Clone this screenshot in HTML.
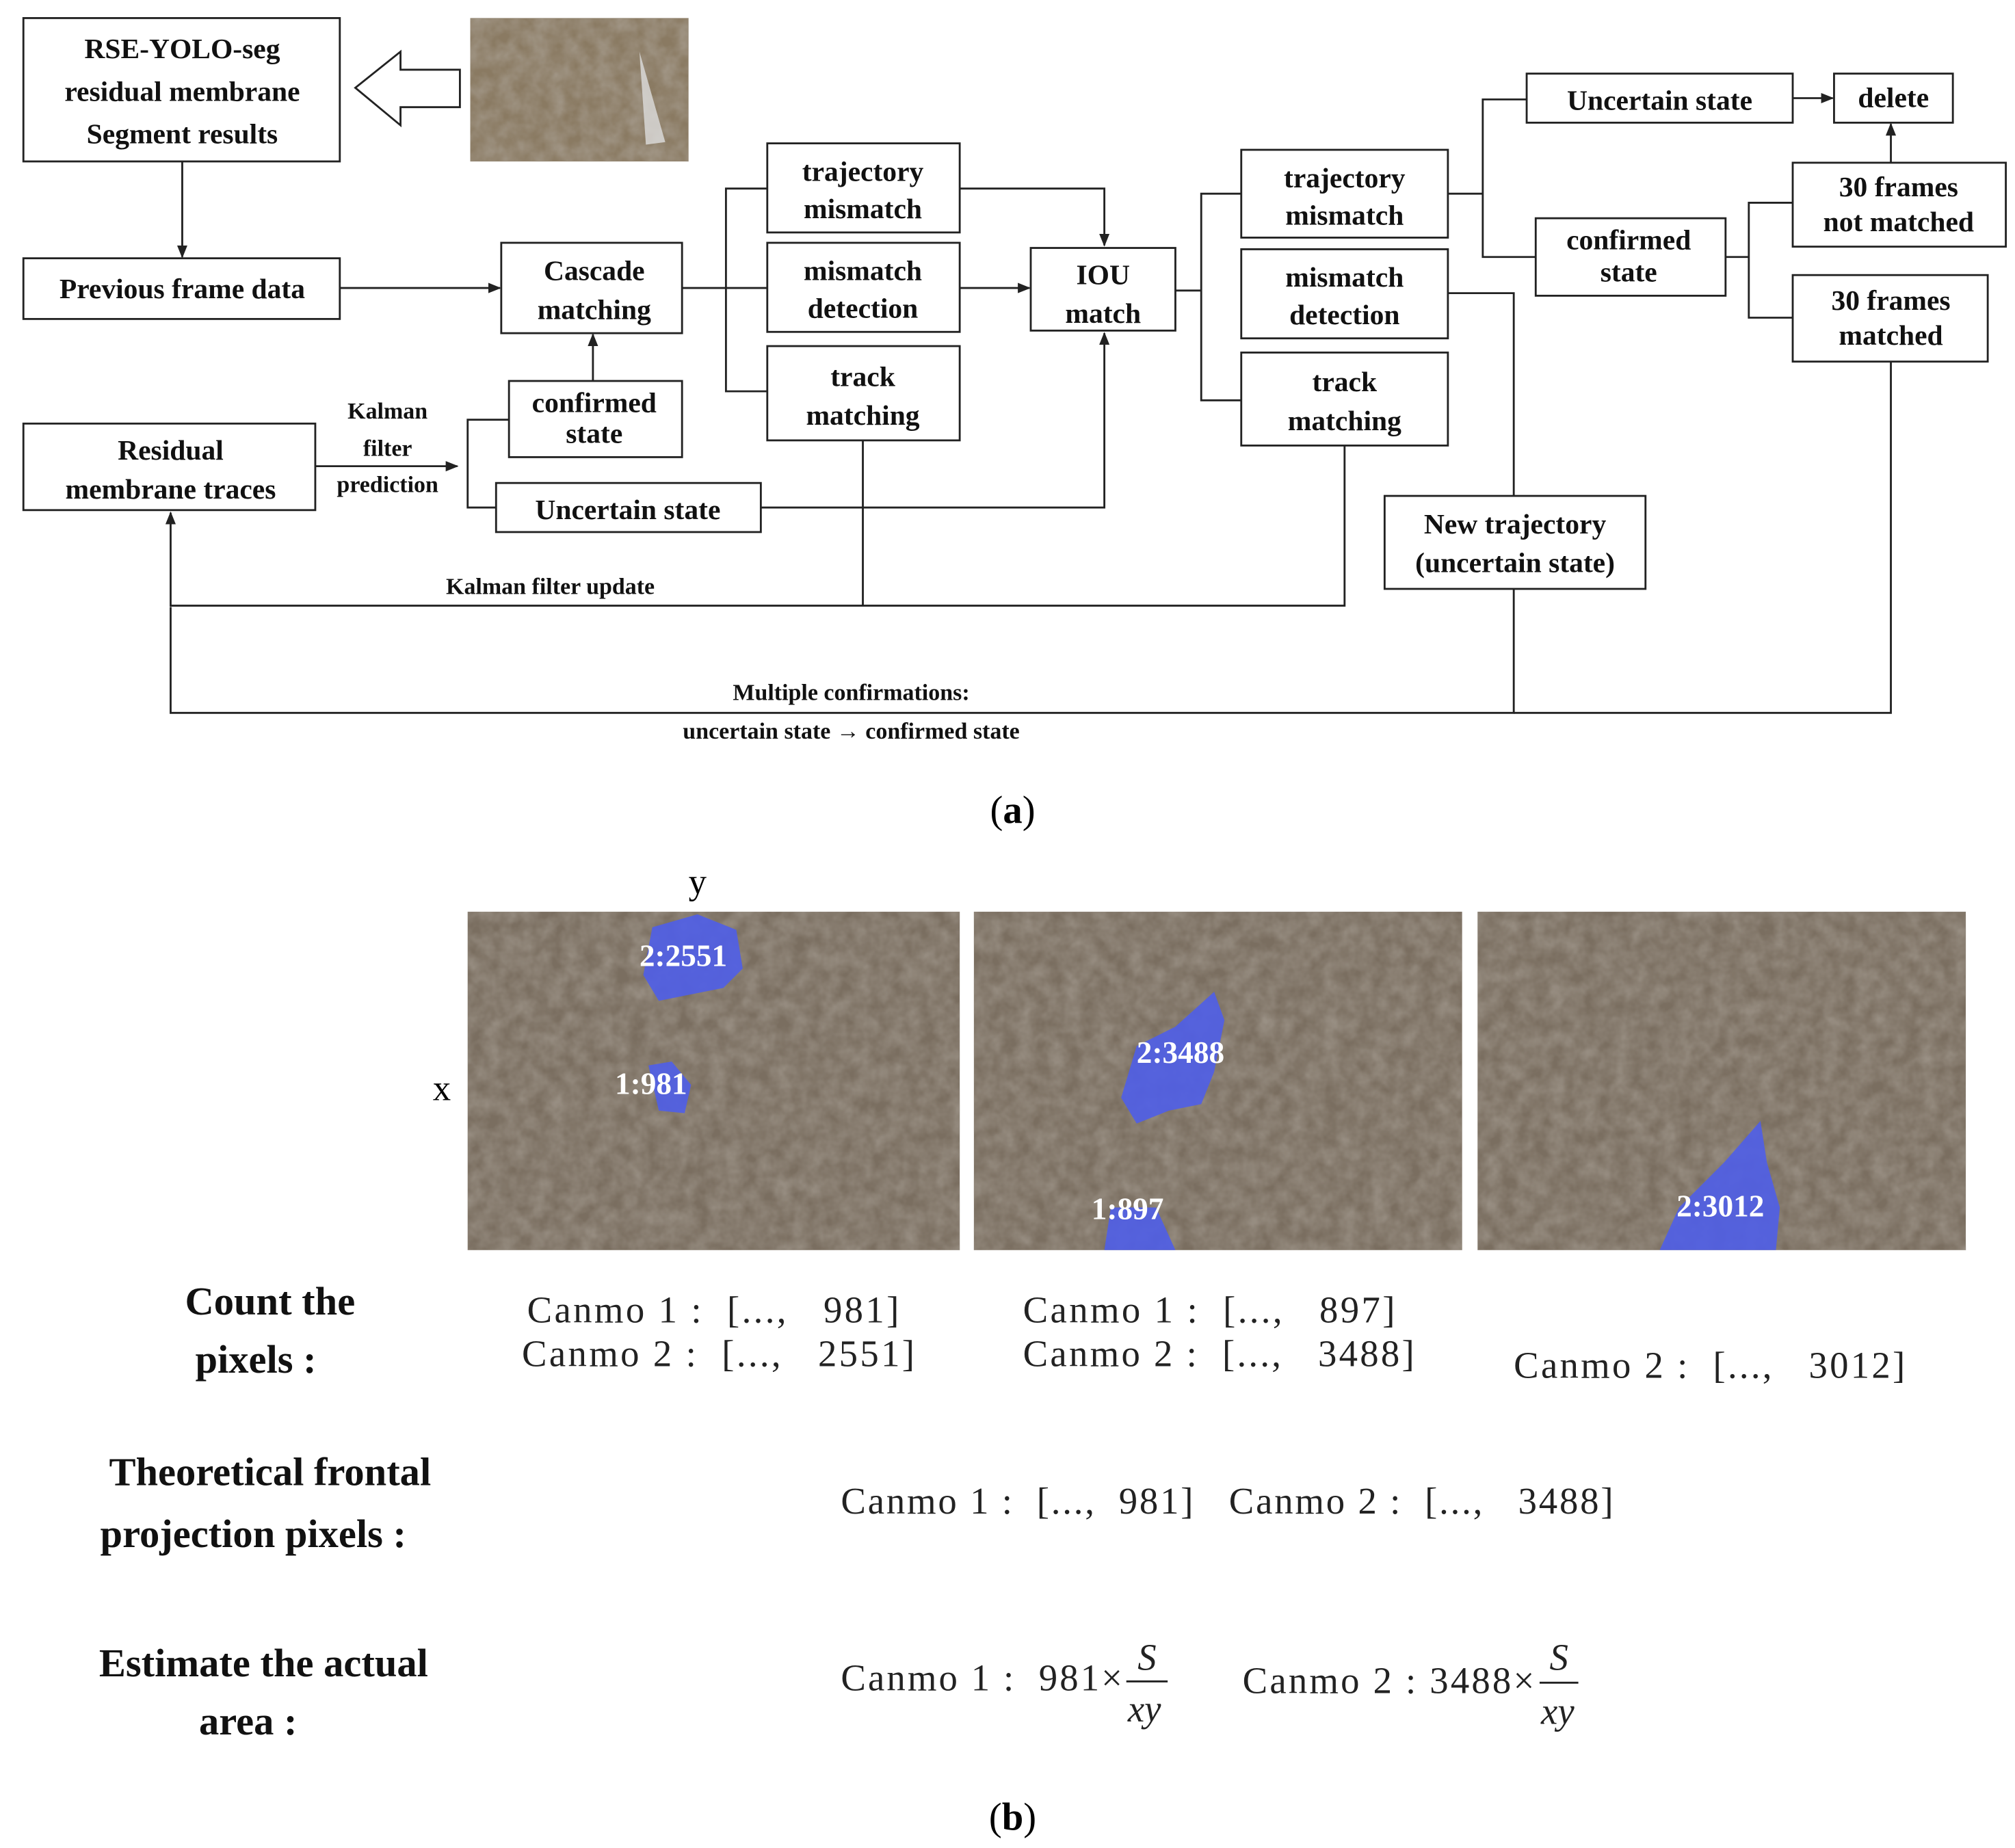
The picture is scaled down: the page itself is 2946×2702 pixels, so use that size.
<!DOCTYPE html>
<html><head><meta charset="utf-8"><style>
html,body{margin:0;padding:0;background:#fff;}
svg{display:block;}
.b{font-family:"Liberation Serif",serif;font-weight:bold;font-size:22px;fill:#111;text-anchor:middle;}
.s{font-family:"Liberation Serif",serif;font-weight:bold;font-size:18px;fill:#111;text-anchor:middle;}
.r{font-family:"Liberation Serif","Noto Serif CJK SC",serif;font-size:29px;fill:#222;white-space:pre;}
.h{font-family:"Liberation Serif",serif;font-weight:bold;font-size:31px;fill:#111;text-anchor:middle;}
.w{font-family:"Liberation Serif",serif;font-weight:bold;font-size:24px;fill:#fff;}
rect.bx{fill:#fff;stroke:#222;stroke-width:1.5;}
line,polyline{stroke:#222;stroke-width:1.5;fill:none;}
</style></head><body>
<svg width="2946" height="2702" viewBox="0 0 1560 1431" xmlns="http://www.w3.org/2000/svg">
<defs><marker id="a" markerWidth="10" markerHeight="10" refX="9" refY="5" orient="auto" markerUnits="userSpaceOnUse"><path d="M0,1 L10,5 L0,9 z" fill="#222"/></marker>
<filter id="n" x="0" y="0" width="100%" height="100%"><feTurbulence type="fractalNoise" baseFrequency="0.08" numOctaves="3" seed="4"/><feColorMatrix values="0 0 0 0 0.45  0 0 0 0 0.41  0 0 0 0 0.36  0 0 0 1.4 -0.3"/></filter></defs>

<rect class="bx" x="18" y="14" width="245" height="111"/>
<text class="b" x="141" y="45">RSE-YOLO-seg</text><text class="b" x="141" y="78">residual membrane</text><text class="b" x="141" y="111">Segment results</text>
<path d="M356,54 L310,54 L310,40 L275,68 L310,97 L310,83 L356,83 Z" fill="#fff" stroke="#222" stroke-width="1.5"/>
<rect x="364" y="14" width="169" height="111" fill="#8a7a62"/>
<rect x="364" y="14" width="169" height="111" filter="url(#n)" opacity="0.6"/>
<path d="M495,40 L515,110 L500,112 Z" fill="#ddd" opacity="0.8"/>

<rect class="bx" x="18" y="200" width="245" height="47"/><text class="b" x="141" y="231">Previous frame data</text>
<line x1="141" y1="125" x2="141" y2="199" marker-end="url(#a)"/>
<line x1="263" y1="223" x2="387" y2="223" marker-end="url(#a)"/>
<rect class="bx" x="388" y="188" width="140" height="70"/><text class="b" x="460" y="217">Cascade</text><text class="b" x="460" y="247">matching</text>
<rect class="bx" x="394" y="295" width="134" height="59"/><text class="b" x="460" y="319">confirmed</text><text class="b" x="460" y="343">state</text>
<line x1="459" y1="295" x2="459" y2="259" marker-end="url(#a)"/>
<rect class="bx" x="18" y="328" width="226" height="67"/><text class="b" x="132" y="356">Residual</text><text class="b" x="132" y="386">membrane traces</text>
<text class="s" x="300" y="324">Kalman</text><text class="s" x="300" y="353">filter</text><text class="s" x="300" y="381">prediction</text>
<line x1="244" y1="361" x2="354" y2="361" marker-end="url(#a)"/>
<polyline points="394,325 362,325 362,393 384,393"/>
<rect class="bx" x="384" y="374" width="205" height="38"/><text class="b" x="486" y="402">Uncertain state</text>

<line x1="528" y1="223" x2="594" y2="223"/>
<polyline points="594,146 562,146 562,303 594,303"/>
<rect class="bx" x="594" y="111" width="149" height="69"/><text class="b" x="668" y="140">trajectory</text><text class="b" x="668" y="169">mismatch</text>
<rect class="bx" x="594" y="188" width="149" height="69"/><text class="b" x="668" y="217">mismatch</text><text class="b" x="668" y="246">detection</text>
<rect class="bx" x="594" y="268" width="149" height="73"/><text class="b" x="668" y="299">track</text><text class="b" x="668" y="329">matching</text>
<polyline points="743,146 855,146 855,190" marker-end="url(#a)"/>
<line x1="743" y1="223" x2="797" y2="223" marker-end="url(#a)"/>
<polyline points="589,393 855,393 855,258" marker-end="url(#a)"/>
<rect class="bx" x="798" y="192" width="112" height="64"/><text class="b" x="854" y="220">IOU</text><text class="b" x="854" y="250">match</text>

<polyline points="910,225 930,225"/>
<polyline points="961,150 930,150 930,310 961,310"/>
<rect class="bx" x="961" y="116" width="160" height="68"/><text class="b" x="1041" y="145">trajectory</text><text class="b" x="1041" y="174">mismatch</text>
<rect class="bx" x="961" y="193" width="160" height="69"/><text class="b" x="1041" y="222">mismatch</text><text class="b" x="1041" y="251">detection</text>
<rect class="bx" x="961" y="273" width="160" height="72"/><text class="b" x="1041" y="303">track</text><text class="b" x="1041" y="333">matching</text>
<line x1="1121" y1="150" x2="1148" y2="150"/>
<polyline points="1182,77 1148,77 1148,199 1189,199"/>
<rect class="bx" x="1182" y="57" width="206" height="38"/><text class="b" x="1285" y="85">Uncertain state</text>
<line x1="1388" y1="76" x2="1419" y2="76" marker-end="url(#a)"/>
<rect class="bx" x="1420" y="57" width="92" height="38"/><text class="b" x="1466" y="83">delete</text>
<rect class="bx" x="1189" y="169" width="147" height="60"/><text class="b" x="1261" y="193">confirmed</text><text class="b" x="1261" y="218">state</text>
<line x1="1336" y1="199" x2="1354" y2="199"/>
<polyline points="1388,157 1354,157 1354,246 1388,246"/>
<rect class="bx" x="1388" y="126" width="165" height="65"/><text class="b" x="1470" y="152">30 frames</text><text class="b" x="1470" y="179">not matched</text>
<rect class="bx" x="1388" y="213" width="151" height="67"/><text class="b" x="1464" y="240">30 frames</text><text class="b" x="1464" y="267">matched</text>
<line x1="1464" y1="126" x2="1464" y2="96" marker-end="url(#a)"/>
<polyline points="1121,227 1172,227 1172,384"/>
<rect class="bx" x="1072" y="384" width="202" height="72"/><text class="b" x="1173" y="413">New trajectory</text><text class="b" x="1173" y="443">(uncertain state)</text>

<line x1="668" y1="341" x2="668" y2="469"/>
<polyline points="1041,345 1041,469 132,469 132,397" marker-end="url(#a)"/>
<text class="s" x="426" y="460">Kalman filter update</text>
<polyline points="1172,456 1172,552 132,552 132,470"/>
<polyline points="1464,280 1464,552 1172,552"/>
<text class="s" x="659" y="542">Multiple confirmations:</text>
<text class="s" x="659" y="572">uncertain state → confirmed state</text>
<text x="784" y="637" style="font-family:'Liberation Serif',serif;font-size:30px;text-anchor:middle">(<tspan font-weight="bold">a</tspan>)</text>

<text x="540" y="692" style="font-family:'Liberation Serif',serif;font-size:28px;text-anchor:middle">y</text>
<text x="342" y="852" style="font-family:'Liberation Serif',serif;font-size:28px;text-anchor:middle">x</text>
<g>
<rect x="362" y="706" width="381" height="262" fill="#7a6e60"/><rect x="362" y="706" width="381" height="262" filter="url(#n)" opacity="0.55"/>
<rect x="754" y="706" width="378" height="262" fill="#7a6e60"/><rect x="754" y="706" width="378" height="262" filter="url(#n)" opacity="0.55"/>
<rect x="1144" y="706" width="378" height="262" fill="#7a6e60"/><rect x="1144" y="706" width="378" height="262" filter="url(#n)" opacity="0.55"/>
<path d="M505,718 L540,708 L570,720 L575,750 L560,765 L535,770 L510,775 L498,755 Z" fill="#4f5ee8" opacity="0.9"/>
<path d="M502,825 L520,822 L535,840 L530,862 L510,860 Z" fill="#4f5ee8" opacity="0.9"/>
<path d="M940,768 L948,790 L940,830 L930,855 L905,860 L880,870 L868,850 L880,810 L910,795 Z" fill="#4f5ee8" opacity="0.9"/>
<path d="M860,935 L895,935 L910,968 L855,968 Z" fill="#4f5ee8" opacity="0.9"/>
<path d="M1363,868 L1368,900 L1378,935 L1375,968 L1285,968 L1300,935 L1335,900 Z" fill="#4f5ee8" opacity="0.9"/>
<text class="w" x="495" y="748">2:2551</text><text class="w" x="476" y="847">1:981</text>
<text class="w" x="880" y="823">2:3488</text><text class="w" x="845" y="944">1:897</text>
<text class="w" x="1298" y="942">2:3012</text>
</g>
<text class="h" x="209" y="1018">Count the</text><text class="h" x="198" y="1063">pixels :</text>
<text class="r" x="408" y="1024" textLength="288">Canmo 1 :  [...,   981]</text>
<text class="r" x="404" y="1058" textLength="304">Canmo 2 :  [...,   2551]</text>
<text class="r" x="792" y="1024" textLength="288">Canmo 1 :  [...,   897]</text>
<text class="r" x="792" y="1058" textLength="303">Canmo 2 :  [...,   3488]</text>
<text class="r" x="1172" y="1067" textLength="303">Canmo 2 :  [...,   3012]</text>
<text class="h" x="209" y="1150">Theoretical frontal</text><text class="h" x="196" y="1198">projection pixels :</text>
<text class="r" x="651" y="1172" textLength="598">Canmo 1 :  [...,  981]   Canmo 2 :  [...,   3488]</text>
<text class="h" x="204" y="1298">Estimate the actual</text><text class="h" x="192" y="1343">area :</text>
<text class="r" x="651" y="1309" textLength="218">Canmo 1 :  981×</text>
<text class="r" x="888" y="1293" font-style="italic" text-anchor="middle" font-size="26">S</text>
<line x1="872" y1="1302" x2="904" y2="1302"/>
<text class="r" x="886" y="1333" font-style="italic" text-anchor="middle" font-size="26">xy</text>
<text class="r" x="962" y="1311" textLength="226">Canmo 2 : 3488×</text>
<text class="r" x="1207" y="1293" font-style="italic" text-anchor="middle" font-size="26">S</text>
<line x1="1192" y1="1303" x2="1222" y2="1303"/>
<text class="r" x="1206" y="1335" font-style="italic" text-anchor="middle" font-size="26">xy</text>
<text x="784" y="1417" style="font-family:'Liberation Serif',serif;font-size:30px;text-anchor:middle">(<tspan font-weight="bold">b</tspan>)</text>
</svg>
</body></html>
